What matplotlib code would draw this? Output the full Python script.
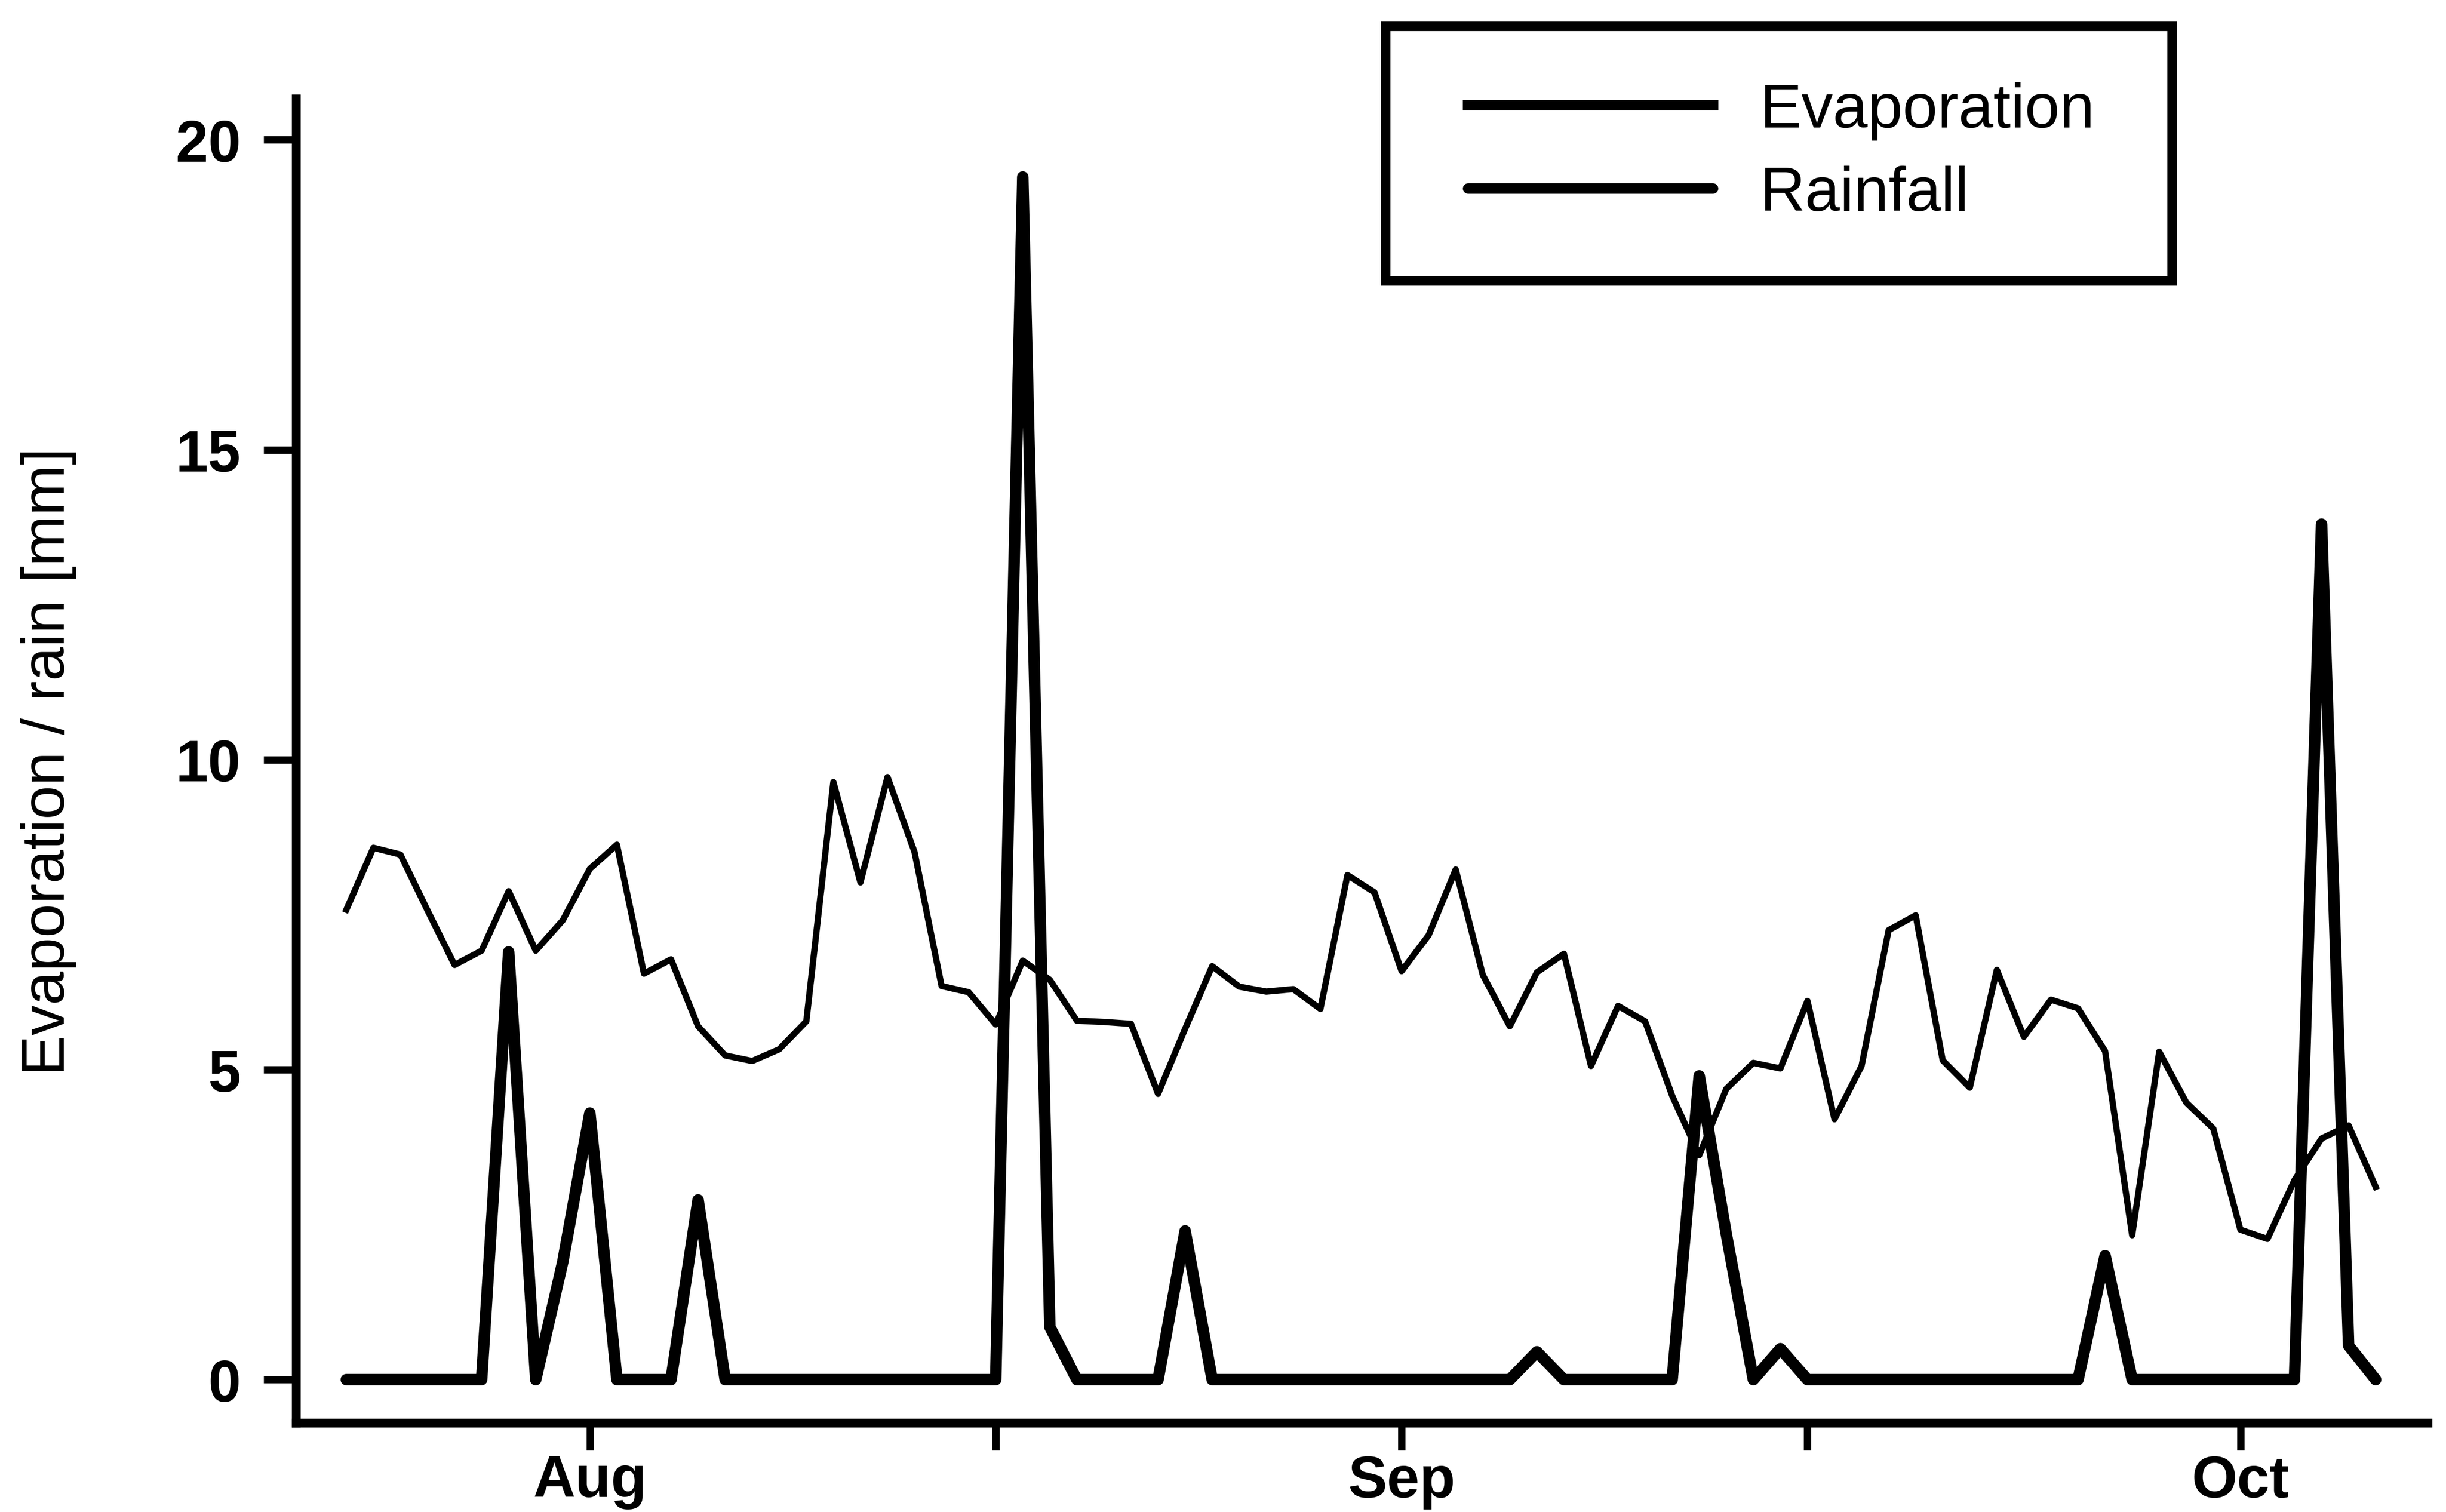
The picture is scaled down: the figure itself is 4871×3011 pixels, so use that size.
import matplotlib
matplotlib.use('Agg')
import matplotlib.pyplot as plt
from matplotlib.patches import Rectangle

# daily values, day 0 = 23 Jul
days = list(range(76))

evaporation = [7.58, 8.58, 8.47, 7.57, 6.69, 6.92, 7.88, 6.92, 7.41, 8.24,
               8.63, 6.55, 6.78, 5.70, 5.23, 5.14, 5.33, 5.78, 9.64, 8.02,
               9.72, 8.51, 6.35, 6.25, 5.73, 6.76, 6.45, 5.79, 5.77, 5.74,
               4.61, 5.66, 6.67, 6.34, 6.26, 6.30, 5.98, 8.14, 7.86, 6.59,
               7.17, 8.23, 6.53, 5.70, 6.57, 6.87, 5.06, 6.03, 5.78, 4.58,
               3.62, 4.69, 5.11, 5.02, 6.11, 4.20, 5.06, 7.25, 7.49, 5.15,
               4.71, 6.61, 5.53, 6.13, 5.99, 5.30, 2.33, 5.29, 4.47, 4.05,
               2.42, 2.27, 3.22, 3.89, 4.10, 3.11]

rainfall = [0, 0, 0, 0, 0, 0, 6.9, 0, 1.9, 4.3,
            0, 0, 0, 2.9, 0, 0, 0, 0, 0, 0,
            0, 0, 0, 0, 0, 19.4, 0.85, 0, 0, 0,
            0, 2.4, 0, 0, 0, 0, 0, 0, 0, 0,
            0, 0, 0, 0, 0.45, 0, 0, 0, 0, 0,
            4.9, 2.35, 0, 0.5, 0, 0, 0, 0, 0, 0,
            0, 0, 0, 0, 0, 2.0, 0, 0, 0, 0,
            0, 0, 0, 13.8, 0.55, 0]

tick_days = [9, 24, 39, 54, 70]
tick_labels = ['Aug', '', 'Sep', '', 'Oct']
y_ticks = [0, 5, 10, 15, 20]

plt.rcParams['font.family'] = ['Liberation Sans', 'DejaVu Sans']

fig = plt.figure(figsize=(16.24, 10.04), dpi=300)
ax = fig.add_axes([0.1211, 0.0588, 0.8714, 0.8755])

ax.plot(days, evaporation, color='black', lw=3.0, solid_joinstyle='round',
        label='Evaporation')
ax.plot(days, rainfall, color='black', lw=5.5, solid_joinstyle='round',
        solid_capstyle='round', label='Rainfall')

ax.set_xlim(-1.85, 76.94)
ax.set_ylim(-0.7, 20.66)

for side in ['top', 'right']:
    ax.spines[side].set_visible(False)
for side in ['left', 'bottom']:
    ax.spines[side].set_linewidth(4.2)

ax.set_xticks(tick_days)
ax.set_xticklabels(tick_labels)
ax.set_yticks(y_ticks)
ax.tick_params(axis='x', direction='out', length=13, width=3.5, pad=2,
               labelsize=28)
ax.tick_params(axis='y', direction='out', length=15.5, width=3.5, pad=11,
               labelsize=28)
for lab in ax.get_xticklabels() + ax.get_yticklabels():
    lab.set_fontweight('bold')

ax.set_ylabel('Evaporation / rain [mm]', fontsize=29)
ax.yaxis.set_label_coords(-0.103, 0.5)

# legend box drawn separately so its padding can match the original
fig.patches.append(Rectangle((0.5663, 0.8142), 0.3215, 0.1683,
                             transform=fig.transFigure, fill=False,
                             edgecolor='black', linewidth=4.5))
leg = ax.legend(loc='center left', bbox_to_anchor=(0.600, 0.8989),
                bbox_transform=fig.transFigure, fontsize=30, frameon=False,
                handlelength=3.9, handletextpad=0.75, labelspacing=0.4,
                borderpad=0, borderaxespad=0)
for line in leg.get_lines():
    line.set_linewidth(5)

fig.savefig('out.png', dpi=300)
